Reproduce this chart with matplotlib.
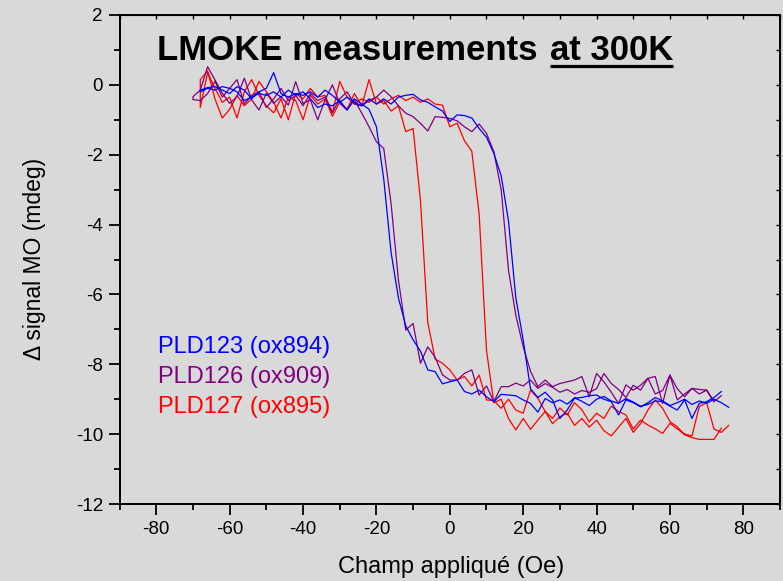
import matplotlib
matplotlib.use('Agg')
import matplotlib.pyplot as plt
from matplotlib.ticker import MultipleLocator
from matplotlib.lines import Line2D

plt.rcParams['font.family'] = ['Liberation Sans', 'DejaVu Sans']
plt.rcParams['axes.unicode_minus'] = False

BG = '#d9d9d9'

# ---------------- data ----------------
# PLD123 (ox894) - blue
h_blue_down = [76, 74, 72, 70, 68, 66, 64, 62, 60, 58, 56, 54, 52, 50, 48, 46, 44, 42, 40, 38,
               36, 34, 32, 30, 28, 26, 24, 22, 20, 18, 16, 14, 12, 10, 8, 6, 4, 2, 0, -2,
               -4, -6, -8, -10, -12, -14, -16, -18, -20, -22, -24, -26, -28, -30, -32, -34, -36, -38, -40, -42,
               -44, -46, -48, -50, -52, -54, -56, -58, -60, -62, -64, -66, -68]
y_blue_down = [-9.23, -9.10, -9.00, -9.12, -9.05, -9.15, -9.00, -9.10, -9.18, -9.05, -8.95, -9.10, -9.22, -9.08, -8.98, -9.12, -9.05, -8.92, -9.00, -9.18,
               -9.06, -8.96, -9.14, -9.02, -9.10, -8.98, -9.37, -9.12, -9.02, -8.90, -8.88, -8.86, -9.07, -8.93, -8.74, -8.85, -8.78, -8.45, -8.50, -8.56,
               -8.21, -8.16, -7.62, -7.30, -6.90, -6.10, -4.80, -2.70, -1.20, -0.70, -0.55, -0.40, -0.72, -0.45, -0.60, -0.55, -0.65, -0.40, -0.20, -0.30,
               -0.15, -0.35, -0.20, -0.30, -0.25, -0.35, -0.45, -0.20, -0.10, -0.05, -0.15, -0.10, -0.20]
h_blue_up = [-68, -66, -64, -62, -60, -58, -56, -54, -52, -50, -48, -46, -44, -42, -40, -38, -36, -34, -32, -30,
             -28, -26, -24, -22, -20, -18, -16, -14, -12, -10, -8, -6, -4, -2, 0, 2, 4, 6, 8, 10,
             12, 14, 16, 18, 20, 22, 24, 26, 28, 30, 32, 34, 36, 38, 40, 42, 44, 46, 48, 50,
             52, 54, 56, 58, 60, 62, 64, 66, 68, 70, 72, 74]
y_blue_up = [-0.15, -0.08, -0.05, -0.15, -0.25, -0.05, -0.15, -0.40, -0.20, -0.10, 0.35, -0.25, -0.35, -0.25, -0.30, -0.20, -0.35, -0.15, -0.30, -0.50,
             -0.35, -0.50, -0.60, -0.40, -0.55, -0.40, -0.55, -0.35, -0.30, -0.27, -0.43, -0.50, -0.63, -0.75, -1.05, -0.86, -0.88, -0.95, -1.25, -1.50,
             -1.96, -2.60, -3.90, -6.10, -7.30, -8.70, -8.95, -8.80, -9.02, -9.55, -9.31, -8.97, -8.95, -8.90, -8.88, -9.00, -9.07, -9.45, -9.02, -9.10,
             -9.20, -9.15, -9.05, -9.07, -9.20, -9.31, -9.02, -9.55, -9.12, -9.07, -8.95, -8.78]

# PLD126 (ox909) - purple
h_purple_down = [74, 72, 70, 68, 66, 64, 62, 60, 58, 56, 54, 52, 50, 48, 46, 44, 42, 40, 38, 36,
                 34, 32, 30, 28, 26, 24, 22, 20, 18, 16, 14, 12, 10, 8, 6, 4, 2, 0, -2, -4,
                 -6, -8, -10, -12, -14, -16, -18, -20, -22, -24, -26, -28, -30, -32, -34, -36, -38, -40, -42, -44,
                 -46, -48, -50, -52, -54, -56, -58, -60, -62, -64, -66, -68, -70]
y_purple_down = [-8.90, -9.07, -8.74, -8.85, -8.69, -8.93, -8.70, -8.31, -8.75, -8.85, -8.40, -8.74, -8.60, -8.95, -8.72, -8.55, -8.26, -8.70, -8.80, -8.75,
                 -8.85, -8.72, -8.80, -8.66, -8.55, -8.69, -8.45, -8.62, -8.54, -8.64, -8.64, -9.07, -8.62, -8.88, -8.16, -8.26, -8.45, -8.45, -8.30, -7.80,
                 -7.50, -7.97, -6.83, -7.02, -5.59, -3.40, -1.82, -1.63, -1.20, -0.81, -0.43, -0.72, -0.53, 0.00, -0.43, -1.00, -0.43, -0.53, 0.09, -0.58,
                 -0.34, -0.53, -0.24, -0.72, -0.43, 0.19, -0.34, -0.53, -0.24, 0.14, 0.52, -0.15, -0.34]
h_purple_up = [-70, -68, -66, -64, -62, -60, -58, -56, -54, -52, -50, -48, -46, -44, -42, -40, -38, -36, -34, -32,
               -30, -28, -26, -24, -22, -20, -18, -16, -14, -12, -10, -8, -6, -4, -2, 0, 2, 4, 6, 8,
               10, 12, 14, 16, 18, 20, 22, 24, 26, 28, 30, 32, 34, 36, 38, 40, 42, 44, 46, 48,
               50, 52, 54, 56, 58, 60, 62, 64, 66, 68, 70, 72]
y_purple_up = [-0.42, -0.45, -0.25, 0.10, -0.35, -0.10, 0.15, -0.55, -0.30, -0.20, -0.65, -0.40, -0.10, -0.45, -0.30, -0.60, -0.25, -0.45, -0.35, -0.80,
               -0.40, -0.20, -0.55, -0.60, -0.45, -0.35, -0.15, -0.34, -0.60, -0.81, -0.91, -1.10, -1.32, -0.91, -0.93, -0.96, -1.03, -1.20, -1.34, -1.12,
               -1.39, -1.91, -3.00, -5.30, -6.60, -7.50, -8.20, -8.64, -8.45, -8.64, -8.55, -8.50, -8.45, -8.35, -8.93, -8.26, -8.50, -8.80, -9.12, -8.59,
               -8.74, -8.60, -8.40, -8.35, -9.12, -8.31, -9.02, -8.85, -8.69, -8.72, -8.74, -9.07]

# PLD127 (ox895) - red
h_red_down = [76, 74, 72, 70, 68, 66, 64, 62, 60, 58, 56, 54, 52, 50, 48, 46, 44, 42, 40, 38,
              36, 34, 32, 30, 28, 26, 24, 22, 20, 18, 16, 14, 12, 10, 8, 6, 4, 2, 0, -2,
              -4, -6, -8, -10, -12, -14, -16, -18, -20, -22, -24, -26, -28, -30, -32, -34, -36, -38, -40, -42,
              -44, -46, -48, -50, -52, -54, -56, -58, -60, -62, -64, -66, -68]
y_red_down = [-9.75, -9.95, -9.85, -9.10, -9.21, -10.05, -10.00, -9.85, -9.69, -9.98, -9.85, -9.74, -9.60, -9.85, -9.45, -9.35, -9.20, -9.55, -9.40, -9.65,
              -9.30, -9.10, -9.45, -9.25, -9.55, -9.35, -8.97, -8.74, -9.40, -9.31, -9.00, -9.26, -9.04, -9.02, -8.31, -8.62, -8.35, -8.45, -8.16, -7.97,
              -7.85, -6.80, -3.30, -1.25, -1.34, -0.60, -0.75, -0.45, -0.55, 0.15, -0.60, -0.25, -0.70, -0.50, -0.90, -0.40, -0.55, -0.30, -1.00, -0.45,
              -0.35, -0.95, -0.50, -0.20, 0.10, -0.40, -0.60, -0.30, -0.70, -0.95, -0.40, 0.40, 0.15]
h_red_up = [-68, -66, -64, -62, -60, -58, -56, -54, -52, -50, -48, -46, -44, -42, -40, -38, -36, -34, -32, -30,
            -28, -26, -24, -22, -20, -18, -16, -14, -12, -10, -8, -6, -4, -2, 0, 2, 4, 6, 8, 10,
            12, 14, 16, 18, 20, 22, 24, 26, 28, 30, 32, 34, 36, 38, 40, 42, 44, 46, 48, 50,
            52, 54, 56, 58, 60, 62, 64, 66, 68, 70, 72, 74]
y_red_up = [-0.65, 0.35, -0.10, -0.50, -0.35, -0.95, -0.20, 0.15, -0.30, -0.60, -0.80, -0.40, -1.00, -0.25, -0.40, -0.10, -0.35, -0.30, -0.80, 0.10,
            -0.35, -0.55, -0.40, -0.50, -0.35, -0.55, -0.40, -0.30, -0.45, -0.35, -0.50, -0.40, -0.55, -0.58, -1.20, -1.10, -1.60, -1.90, -3.70, -7.60,
            -9.10, -9.00, -9.55, -9.88, -9.55, -9.86, -9.60, -9.35, -9.70, -9.50, -9.40, -9.75, -9.55, -9.80, -9.60, -9.90, -10.05, -9.80, -9.55, -9.95,
            -9.70, -9.31, -9.02, -9.26, -9.64, -9.79, -10.02, -10.10, -10.15, -10.15, -10.15, -9.83]

labels = ['PLD123 (ox894)', 'PLD126 (ox909)', 'PLD127 (ox895)']
colors = ['#0000ff', '#800080', '#ff0000']

x_ticks = [-80, -60, -40, -20, 0, 20, 40, 60, 80]
y_ticks = [-12, -10, -8, -6, -4, -2, 0, 2]

# ---------------- figure ----------------
fig = plt.figure(figsize=(7.83, 5.81), dpi=100, facecolor=BG)
ax = fig.add_axes([0.1527, 0.1325, 0.8435, 0.8417])
ax.set_facecolor(BG)

series = [
    (h_red_down + h_red_up, y_red_down + y_red_up, colors[2]),
    (h_purple_down + h_purple_up, y_purple_down + y_purple_up, colors[1]),
    (h_blue_down + h_blue_up, y_blue_down + y_blue_up, colors[0]),
]
for hx, yy, c in series:
    ax.plot(hx, yy, color=c, lw=0.9)

ax.set_xlim(-90, 90)
ax.set_ylim(-12, 2)
ax.set_xticks(x_ticks)
ax.set_yticks(y_ticks)
ax.xaxis.set_minor_locator(MultipleLocator(10))
ax.yaxis.set_minor_locator(MultipleLocator(1))
ax.tick_params(which='major', direction='out', length=8, width=1.3, labelsize=13.5, pad=4)
ax.tick_params(which='minor', direction='out', length=4, width=1.3)
for s in ax.spines.values():
    s.set_linewidth(1.4)

secx = ax.secondary_xaxis('top')
secx.xaxis.set_major_locator(MultipleLocator(10))
secx.tick_params(axis='x', direction='in', length=3, width=1.0, labeltop=False, labelbottom=False)
secy = ax.secondary_yaxis('right')
secy.yaxis.set_major_locator(MultipleLocator(1))
secy.tick_params(axis='y', direction='in', length=3, width=1.0, labelright=False, labelleft=False)

# axis labels
fig.text(0.5766, 0.0138, 'Champ appliqué (Oe)', fontsize=17, ha='center', va='baseline')
fig.text(0.044, 0.555, 'Δ signal MO (mdeg)', fontsize=16.5, ha='center', va='center', rotation=90)

# title with underlined part
t1 = ax.text(0.0566, 0.908, 'LMOKE measurements', transform=ax.transAxes,
             fontsize=25, fontweight='bold', ha='left', va='baseline')
t2 = ax.text(0.6517, 0.908, 'at 300K', transform=ax.transAxes,
             fontsize=25, fontweight='bold', ha='left', va='baseline')
fig.canvas.draw()
r = fig.canvas.get_renderer()
bb = t2.get_window_extent(renderer=r)
base_disp = ax.transAxes.transform((0.6517, 0.908))[1]
yline = (base_disp - 6.5) / fig.bbox.height
fig.add_artist(Line2D([bb.x0 / fig.bbox.width, bb.x1 / fig.bbox.width], [yline, yline],
                      transform=fig.transFigure, color='black', lw=2.3, solid_capstyle='butt'))

# legend-like labels
leg_y = [0.3082, 0.2468, 0.1855]
for lab, c, yy in zip(labels, colors, leg_y):
    ax.text(0.0581, yy, lab, transform=ax.transAxes, color=c, fontsize=17,
            ha='left', va='baseline')

fig.savefig('out.png', dpi=100, facecolor=BG)
